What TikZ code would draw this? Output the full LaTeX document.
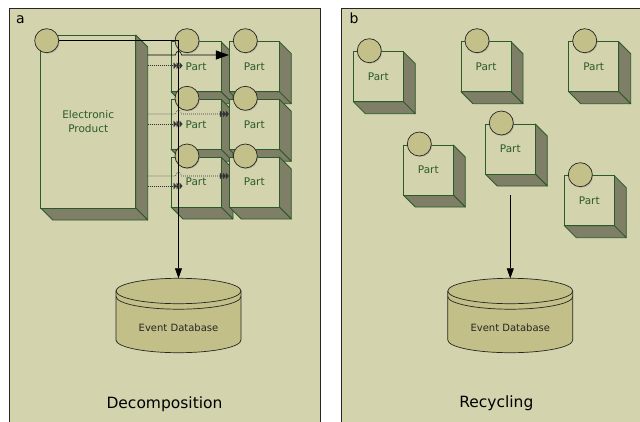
\documentclass[tikz,border=0pt]{standalone}
\usepackage{fontspec}
\setmainfont{DejaVu Sans}
\usetikzlibrary{arrows.meta,calc,shadows}

\definecolor{panelbg}{HTML}{D3D3AE}
\definecolor{boxedge}{HTML}{2B5A2B}
\definecolor{boxside}{HTML}{7F7E66}
\definecolor{knobfill}{HTML}{C3C189}
\definecolor{dbfill}{HTML}{C2C088}
\definecolor{tracegray}{HTML}{333333}

\tikzset{
  panel/.style={draw=black!85, fill=panelbg, line width=0.7pt},
  face/.style={draw=boxedge, fill=boxside, line width=0.8pt, line join=round},
  part/.style={rectangle, draw=boxedge, fill=panelbg, line width=0.8pt,
    minimum width=50pt, minimum height=50pt, inner sep=0pt,
    text=boxedge, font=\fontsize{10.5}{14}\selectfont},
  knob/.style={circle, draw=black!85, fill=knobfill, line width=0.7pt,
    minimum size=24pt, inner sep=0pt,
    drop shadow={shadow xshift=0.9pt, shadow yshift=-0.9pt, opacity=0.45}},
  dbase/.style={draw=black!85, fill=dbfill, line width=0.7pt},
  dblabel/.style={anchor=base, inner sep=0pt, text=black!85,
    font=\fontsize{10}{12}\selectfont},
  link/.style={draw=black, line width=0.6pt},
  trace/.style={draw=tracegray, line width=0.6pt, dash pattern=on 0.7pt off 1.3pt},
  tracetip/.style={-{Triangle[length=3pt,width=6.5pt]Triangle[length=3pt,width=6.5pt]Triangle[length=3pt,width=6.5pt]}},
  title/.style={anchor=base, inner sep=0pt, font=\fontsize{15.5}{18}\selectfont},
  tag/.style={anchor=base west, inner sep=0pt, font=\fontsize{14}{16}\selectfont},
}

% 3D part: #1 name, (#2,#3) top left corner of the front face
\newcommand{\partbox}[3]{%
  \filldraw[face] (#2+50,#3) -- ++(12,12) -- ++(0,50) -- ++(-12,-12) -- cycle;
  \filldraw[face] (#2,#3+50) -- ++(50,0) -- ++(12,12) -- ++(-50,0) -- cycle;
  \node[part] (#1) at (#2+25,#3+25) {Part};
  \node[knob] (#1k) at (#2+16,#3-1) {};
}

% database drum: #1 name, #2 centre x
\newcommand{\eventdb}[2]{%
  \filldraw[dbase] (#2-62.5,291) -- (#2-62.5,340)
    arc[start angle=180, end angle=360, x radius=62.5pt, y radius=12.7pt]
    -- (#2+62.5,291)
    arc[start angle=0, end angle=180, x radius=62.5pt, y radius=12.7pt] -- cycle;
  \draw[dbase, fill=none] (#2-62.5,291)
    arc[start angle=180, end angle=360, x radius=62.5pt, y radius=12.7pt];
  \draw[dbase, fill=none] (#2-62.5,296.5)
    arc[start angle=180, end angle=360, x radius=62.5pt, y radius=12.7pt];
  \coordinate (#1top) at (#2,278.3);
  \node[dblabel] (#1) at (#2,331) {Event Database};
}

\begin{document}
\begin{tikzpicture}[x=1pt, y=-1pt]
  \useasboundingbox (0,0) rectangle (640,421);
  \fill[white] (0,0) rectangle (640,421);

  % panels
  \draw[panel] (9.3,8) rectangle (320.7,430);
  \draw[panel] (341,8) rectangle (650,430);
  \node[tag] (tagA) at (16,23.3) {a};
  \node[tag] (tagB) at (349.3,23.3) {b};

  % --- decomposition ---
  \filldraw[face] (135.7,35) -- ++(12,12) -- ++(0,173) -- ++(-12,-12) -- cycle;
  \filldraw[face] (40.7,208) -- ++(95,0) -- ++(12,12) -- ++(-95,0) -- cycle;
  \node[part, minimum width=95pt, minimum height=173pt, align=center]
    (ep) at (88.2,121.5) {Electronic\\Product};
  \node[knob] (epk) at (46.7,40.7) {};

  \partbox{dp11}{171}{41.7}
  \partbox{dp21}{171}{99.3}
  \partbox{dp31}{171}{157}
  \partbox{dp12}{229.3}{41.7}
  \partbox{dp22}{229.3}{99.3}
  \partbox{dp32}{229.3}{157}

  \eventdb{db1}{178.5}

  % trace sources on the side of the product
  \coordinate (s1) at (147.7,55);
  \coordinate (s2) at (147.7,65.7);
  \coordinate (s3) at (147.7,114);
  \coordinate (s4) at (147.7,124);
  \coordinate (s5) at (147.7,176);
  \coordinate (s6) at (147.7,186);
  \coordinate (hop) at (db1top);

  \draw[link, -{Triangle[length=10pt,width=7pt]}] (epk.east) -| (db1top);
  \draw[link, -{Triangle[length=13pt,width=9pt]}] (s1)
    -- ($(s1 -| hop)+(-3,0)$) .. controls +(0,-5) and +(0,-5) .. ($(s1 -| hop)+(3,0)$)
    -- (s1 -| dp12.west);
  \draw[trace, tracetip] (s2) -- ($(s2 -| dp11.west)+(12,0)$);
  \draw[trace, tracetip] (s3)
    -- ($(s3 -| hop)+(-3,0)$) .. controls +(0,-5) and +(0,-5) .. ($(s3 -| hop)+(3,0)$)
    -- (s3 -| dp22.west);
  \draw[trace, tracetip] (s4) -- ($(s4 -| dp21.west)+(12,0)$);
  \draw[trace, tracetip] (s5)
    -- ($(s5 -| hop)+(-3,0)$) .. controls +(0,-5) and +(0,-5) .. ($(s5 -| hop)+(3,0)$)
    -- (s5 -| dp32.west);
  \draw[trace, tracetip] (s6) -- ($(s6 -| dp31.west)+(12,0)$);

  \node[title] (titleA) at (164.5,408.3) {Decomposition};

  % --- recycling ---
  \partbox{rp1}{353.3}{51.7}
  \partbox{rp2}{461}{41.7}
  \partbox{rp3}{568.7}{41.7}
  \partbox{rp4}{403.3}{145}
  \partbox{rp5}{485.3}{124}
  \partbox{rp6}{564.3}{175.7}

  \eventdb{db2}{510.3}

  \coordinate (drop) at ($(rp5.south)+(0,21)$);
  \draw[link, -{Triangle[length=10pt,width=7pt]}] (drop) -- (drop |- db2top);

  \node[title] (titleB) at (496.3,407.7) {Recycling};
\end{tikzpicture}
\end{document}
